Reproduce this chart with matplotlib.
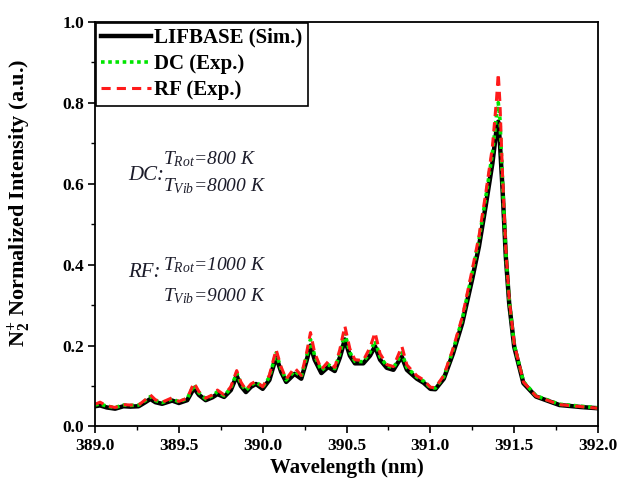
import matplotlib
matplotlib.use("Agg")
import matplotlib.pyplot as plt
from matplotlib.ticker import MultipleLocator

plt.rcParams['font.family'] = ['Liberation Serif', 'DejaVu Serif']
plt.rcParams['mathtext.fontset'] = 'custom'
plt.rcParams['mathtext.rm'] = 'Liberation Serif:bold'
plt.rcParams['mathtext.it'] = 'Liberation Serif:italic'
plt.rcParams['mathtext.bf'] = 'Liberation Serif:bold'

wavelength = [389.00, 389.03, 389.07, 389.12, 389.17, 389.21, 389.26, 389.30, 389.33, 389.36,
              389.40, 389.46, 389.50, 389.55, 389.59, 389.62, 389.66, 389.70, 389.73, 389.77,
              389.81, 389.845, 389.87, 389.90, 389.93, 389.96, 390.00, 390.04, 390.08, 390.11,
              390.14, 390.19, 390.23, 390.26, 390.285, 390.31, 390.35, 390.39, 390.43, 390.46,
              390.49, 390.52, 390.55, 390.60, 390.64, 390.67, 390.70, 390.74, 390.78, 390.81,
              390.83, 390.86, 390.92, 390.96, 391.00, 391.03, 391.08, 391.135, 391.19, 391.25,
              391.29, 391.33, 391.37, 391.395, 391.405, 391.415, 391.43, 391.45, 391.47, 391.50,
              391.555, 391.63, 391.77, 391.90, 392.00]

lifbase_sim = [0.050, 0.052, 0.047, 0.044, 0.050, 0.049, 0.050, 0.060, 0.068, 0.060,
               0.056, 0.064, 0.058, 0.065, 0.095, 0.078, 0.065, 0.072, 0.080, 0.073,
               0.090, 0.125, 0.100, 0.085, 0.098, 0.105, 0.093, 0.115, 0.172, 0.135,
               0.110, 0.130, 0.118, 0.160, 0.200, 0.165, 0.132, 0.147, 0.137, 0.170,
               0.215, 0.175, 0.156, 0.156, 0.175, 0.198, 0.165, 0.145, 0.140, 0.160,
               0.172, 0.140, 0.118, 0.108, 0.093, 0.092, 0.118, 0.180, 0.255, 0.365,
               0.445, 0.545, 0.650, 0.735, 0.753, 0.700, 0.590, 0.420, 0.305, 0.197,
               0.107, 0.074, 0.053, 0.048, 0.045]

dc_exp = [0.053, 0.056, 0.050, 0.047, 0.053, 0.052, 0.053, 0.064, 0.074, 0.064,
          0.059, 0.068, 0.061, 0.069, 0.103, 0.083, 0.068, 0.076, 0.086, 0.076,
          0.095, 0.132, 0.106, 0.089, 0.102, 0.110, 0.097, 0.122, 0.182, 0.142,
          0.115, 0.137, 0.123, 0.170, 0.215, 0.175, 0.138, 0.153, 0.143, 0.180,
          0.230, 0.183, 0.161, 0.160, 0.183, 0.212, 0.172, 0.150, 0.145, 0.167,
          0.182, 0.146, 0.122, 0.112, 0.096, 0.095, 0.123, 0.188, 0.265, 0.380,
          0.462, 0.565, 0.675, 0.770, 0.800, 0.760, 0.610, 0.430, 0.312, 0.202,
          0.111, 0.076, 0.055, 0.050, 0.046]

rf_exp = [0.055, 0.060, 0.051, 0.047, 0.054, 0.053, 0.053, 0.066, 0.078, 0.066,
          0.060, 0.071, 0.062, 0.070, 0.108, 0.086, 0.070, 0.078, 0.090, 0.078,
          0.098, 0.138, 0.110, 0.090, 0.105, 0.112, 0.098, 0.127, 0.190, 0.147,
          0.117, 0.145, 0.126, 0.178, 0.232, 0.182, 0.141, 0.160, 0.146, 0.190,
          0.248, 0.192, 0.165, 0.163, 0.195, 0.232, 0.180, 0.153, 0.148, 0.178,
          0.198, 0.152, 0.125, 0.115, 0.097, 0.096, 0.126, 0.192, 0.270, 0.388,
          0.470, 0.575, 0.690, 0.810, 0.872, 0.800, 0.625, 0.440, 0.315, 0.205,
          0.110, 0.075, 0.054, 0.049, 0.045]

fig = plt.figure(figsize=(6.26, 4.91), dpi=100)
ax = fig.add_axes([0.1518, 0.1314, 0.8035, 0.8244])

ax.plot(wavelength, lifbase_sim, color='black', lw=3.2, label='LIFBASE (Sim.)')
ax.plot(wavelength, dc_exp, color='#00e600', lw=2.6, ls=(0, (1, 1)), label='DC (Exp.)')
ax.plot(wavelength, rf_exp, color='#ff1a1a', lw=2.2, ls=(0, (3, 2)), label='RF (Exp.)')

ax.set_xlim(389.0, 392.0)
ax.set_ylim(0.0, 1.0)
ax.xaxis.set_major_locator(MultipleLocator(0.5))
ax.xaxis.set_minor_locator(MultipleLocator(0.25))
ax.yaxis.set_major_locator(MultipleLocator(0.2))
ax.yaxis.set_minor_locator(MultipleLocator(0.1))
ax.xaxis.set_major_formatter(matplotlib.ticker.FormatStrFormatter('%.1f'))
ax.yaxis.set_major_formatter(matplotlib.ticker.FormatStrFormatter('%.1f'))
ax.tick_params(which='major', direction='out', length=5, width=1.2, labelsize=12.5, pad=3)
ax.tick_params(which='minor', direction='out', length=3, width=1.0)
for lbl in ax.get_xticklabels() + ax.get_yticklabels():
    lbl.set_fontweight('bold')
for s in ax.spines.values():
    s.set_linewidth(1.3)

ax.set_xlabel('Wavelength (nm)', fontsize=15, fontweight='bold', labelpad=3)
ax.set_ylabel(r'N$_\mathbf{2}^\mathbf{+}$ Normalized Intensity (a.u.)', fontsize=16,
              fontweight='bold')
ax.yaxis.set_label_coords(-0.122, 0.552)

leg = ax.legend(loc='upper left', bbox_to_anchor=(0.0, 1.0), borderaxespad=0.05,
                fancybox=False, edgecolor='black', framealpha=1, handlelength=2.4,
                handletextpad=0.15, labelspacing=0.3, borderpad=0.25,
                prop={'family': 'Liberation Serif', 'weight': 'bold', 'size': 15})
leg.get_frame().set_linewidth(1.2)

tc = '#1c1c2a'
ax.text(389.197, 0.621, 'DC:', fontsize=15, style='italic', color=tc, va='center', ha='left')
ax.text(389.405, 0.660, r'$T_{Rot}$=800 K', fontsize=14, style='italic', color=tc, va='center', ha='left')
ax.text(389.405, 0.594, r'$T_{Vib}$=8000 K', fontsize=14, style='italic', color=tc, va='center', ha='left')
ax.text(389.197, 0.381, 'RF:', fontsize=15, style='italic', color=tc, va='center', ha='left')
ax.text(389.405, 0.398, r'$T_{Rot}$=1000 K', fontsize=14, style='italic', color=tc, va='center', ha='left')
ax.text(389.405, 0.322, r'$T_{Vib}$=9000 K', fontsize=14, style='italic', color=tc, va='center', ha='left')

fig.savefig('out.png', dpi=100)
